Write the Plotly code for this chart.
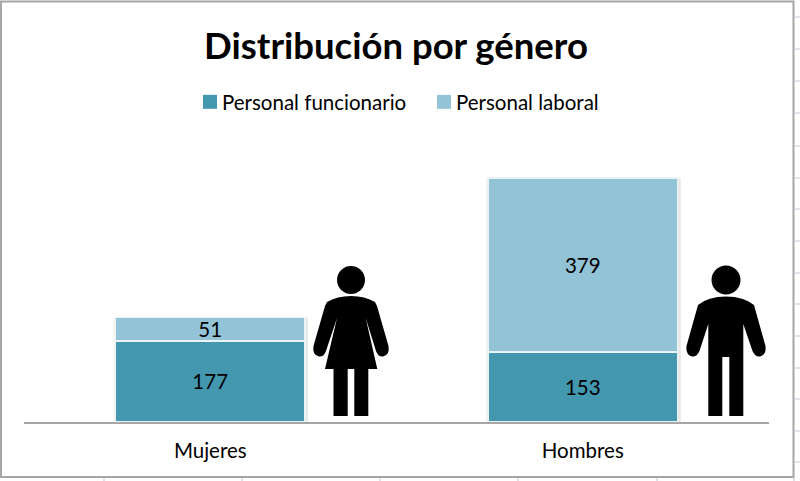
import plotly.graph_objects as go

categories = ["Mujeres", "Hombres"]
funcionario = [177, 153]
laboral = [51, 379]
series_names = ["Personal funcionario", "Personal laboral"]
title_text = "Distribución por género"

W, H = 800, 481
L, R, T, B = 24, 31, 147, 59
FONT = "Lato, Carlito, Calibri, sans-serif"
DARK = "#4397AF"
LIGHT = "#93C3D6"
GREY = "#A6A6A6"
GRID = "#D4DAE6"


def px(x):
    return (x - L) / (W - L - R)


def py(y):
    return 1 - (y - T) / (H - T - B)


def P(x, y):
    return f"{px(x):.5f},{py(y):.5f}"


def poly(cmds):
    out = []
    for c in cmds:
        if c[0] in "ML":
            out.append(c[0] + P(c[1], c[2]))
        else:
            out.append("Q" + P(c[1], c[2]) + " " + P(c[3], c[4]))
    return " ".join(out) + " Z"


def circle(cx, cy, r):
    k = 0.5523 * r
    return (f"M{P(cx - r, cy)} C{P(cx - r, cy - k)} {P(cx - k, cy - r)} {P(cx, cy - r)} "
            f"C{P(cx + k, cy - r)} {P(cx + r, cy - k)} {P(cx + r, cy)} "
            f"C{P(cx + r, cy + k)} {P(cx + k, cy + r)} {P(cx, cy + r)} "
            f"C{P(cx - k, cy + r)} {P(cx - r, cy + k)} {P(cx - r, cy)} Z")


woman = [
    ("M", 351, 296), ("Q", 337, 296, 327, 302), ("L", 325, 306), ("L", 313.5, 346),
    ("Q", 312, 355, 319, 356.5), ("Q", 324, 357, 326, 351), ("L", 337, 318),
    ("L", 325, 369), ("L", 333.5, 369), ("L", 333.5, 416), ("L", 347.7, 416),
    ("L", 347.7, 369), ("L", 354.3, 369), ("L", 354.3, 416), ("L", 368.3, 416),
    ("L", 368.3, 369), ("L", 377.3, 369), ("L", 365.7, 318), ("L", 376, 351),
    ("Q", 378, 357, 383, 356.5), ("Q", 390, 355, 388.5, 346), ("L", 377, 306),
    ("L", 375, 302), ("Q", 365, 296, 351, 296),
]
man = [
    ("M", 726, 296.5), ("Q", 708, 296.5, 698, 305), ("L", 686.5, 346),
    ("Q", 685.5, 355, 692, 356.5), ("Q", 697, 357, 699.5, 351), ("L", 708.3, 324),
    ("L", 708.3, 416), ("L", 722.3, 416), ("L", 722.3, 357), ("L", 729.3, 357),
    ("L", 729.3, 416), ("L", 743.3, 416), ("L", 743.3, 324), ("L", 752.5, 351),
    ("Q", 755, 357, 760, 356.5), ("Q", 766.5, 355, 765.5, 346), ("L", 754, 305),
    ("Q", 744, 296.5, 726, 296.5),
]

shapes = [
    dict(type="path", xref="paper", yref="paper", path=p, fillcolor="black", line_width=0)
    for p in [circle(351, 280, 14), poly(woman), circle(726, 280, 14.5), poly(man)]
]
# worksheet frame
shapes.append(dict(type="rect", xref="paper", yref="paper",
                   x0=px(1), x1=px(793.5), y0=py(477), y1=py(1.5),
                   line=dict(color=GREY, width=2), fillcolor="rgba(0,0,0,0)", layer="below"))


def seg(x0, y0, x1, y1, color, width=1):
    return dict(type="line", xref="paper", yref="paper", x0=px(x0), y0=py(y0), x1=px(x1), y1=py(y1),
                line=dict(color=color, width=width), layer="below")


# worksheet gridline stubs around the frame
for y in [17, 49, 81, 113, 146, 178, 209, 241, 273, 304, 336, 368, 399, 431, 462]:
    shapes.append(seg(795, y, 800, y, GRID, 1.5))
for x in [104, 242, 380, 518, 657, 794]:
    shapes.append(seg(x, 478, x, 481, GRID, 1.5))
# soft bar shadows
for x0, y0 in [(306.5, 318), (679.5, 178)]:
    shapes.append(seg(x0, y0, x0, 422, "#E6E6E6", 2.5))
for x0, y0 in [(114, 318), (487, 178)]:
    shapes.append(seg(x0, y0, x0, 422, "#F0F0F0", 1.5))

fig = go.Figure()
for name, vals, col in zip(series_names, [funcionario, laboral], [DARK, LIGHT]):
    fig.add_bar(name=name, x=categories, y=vals, text=[str(v) for v in vals],
                textposition="inside", insidetextanchor="middle", textangle=0,
                textfont=dict(family=FONT, size=20.5, color="black"),
                marker=dict(color=col, line=dict(color="#EAF3F6", width=1.5)),
                legendgroup=name, showlegend=False)
    fig.add_scatter(name=name, x=[None], y=[None], mode="markers", legendgroup=name,
                    marker=dict(symbol="square", size=14, color=col))

fig.update_layout(
    width=W, height=H, autosize=False,
    barmode="stack", bargap=0.49,
    paper_bgcolor="white", plot_bgcolor="white",
    margin=dict(l=L, r=R, t=T, b=B, pad=0),
    uniformtext=dict(minsize=20.5, mode="show"),
    title=dict(text=f"<b>{title_text}</b>", x=396 / W, xanchor="center", y=1 - 46 / H, yanchor="middle",
               font=dict(family=FONT, size=36.5, color="black")),
    showlegend=True,
    legend=dict(orientation="h", x=182 / W, xref="container", xanchor="left", y=1 - 82 / H, yref="container",
                yanchor="top", traceorder="normal", font=dict(family=FONT, size=20.5, color="black"),
                itemwidth=30, entrywidth=189, entrywidthmode="pixels", bgcolor="rgba(0,0,0,0)"),
    xaxis=dict(showline=True, linecolor=GREY, linewidth=2, ticks="", showgrid=False, ticklabelstandoff=9,
               tickfont=dict(family=FONT, size=20.5, color="black")),
    yaxis=dict(visible=False, range=[0, 600], showgrid=False, zeroline=False),
    shapes=shapes,
)
fig.write_html("out.html", config=dict(displayModeBar=False),
               post_script="document.body.style.margin='0';document.documentElement.style.overflow='hidden';"
                           "document.querySelectorAll('.legendsymbols').forEach(function(g){"
                           "g.setAttribute('transform','translate(8,0)');});")
